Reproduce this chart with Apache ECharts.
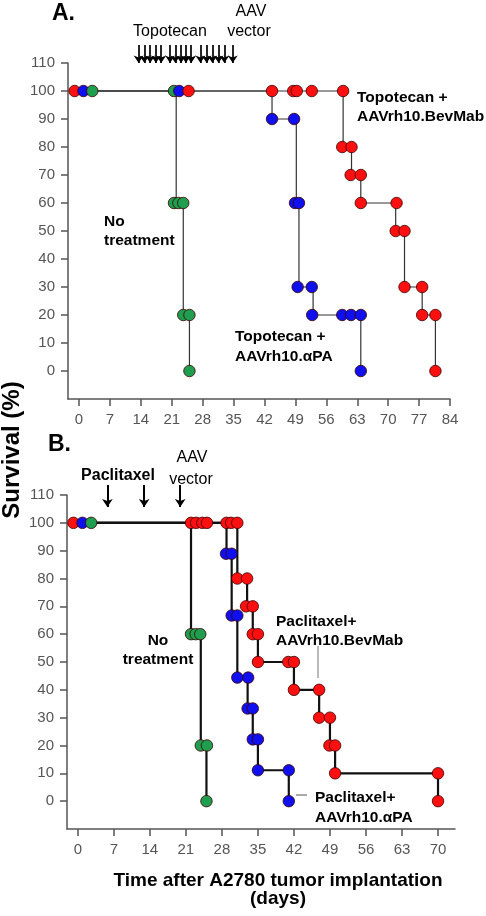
<!DOCTYPE html>
<html><head><meta charset="utf-8">
<script src="https://cdn.jsdelivr.net/npm/echarts@6/dist/echarts.min.js"></script>
<style>html,body{margin:0;padding:0;background:#fff}#c{width:486px;height:916px}</style>
</head><body><div id="c"></div>
<script>
// ---------- tick labels ----------
const xTicksA = [0,7,14,21,28,35,42,49,56,63,70,77,84];
const xTicksB = [0,7,14,21,28,35,42,49,56,63,70];
const yTicks = [0,10,20,30,40,50,60,70,80,90,100,110];

// ---------- Panel A (Topotecan) ----------
// step curves: start day at 100 %, then [day, survival after drop]
const A_red_start = -1;
const A_red_steps = [[59.8,80],[61.7,70],[63.8,60],[71.7,50],[73.7,30],[77.7,20],[80.7,0]];
const A_blue_start = 1;
const A_blue_steps = [[43.7,90],[49.2,60],[49.8,30],[53,20],[63.8,0]];
const A_green_start = 3;
const A_green_steps = [[22,60],[23.6,20],[25,0]];
// markers
const A_red_pts = [[-1,100],[24.8,100],[43.7,100],[48.5,100],[49.3,100],[52.7,100],[59.8,100],[59.6,80],[61.7,80],[61.5,70],[63.8,70],[63.8,60],[71.9,60],[71.7,50],[73.7,50],[73.7,30],[77.7,30],[77.7,20],[80.7,20],[80.7,0]];
const A_blue_pts = [[1,100],[22.7,100],[43.7,90],[48.7,90],[48.9,60],[49.8,60],[49.5,30],[52.7,30],[52.8,20],[59.6,20],[61.6,20],[63.8,20],[63.8,0]];
const A_green_pts = [[3,100],[21.5,100],[21.5,60],[22.5,60],[23.6,60],[23.6,20],[25,20],[25,0]];
const A_topotecan_days = [13.5,14.8,16.1,17.4,18.6,20.6,21.8,23.1,24.2,25.4,27.5,28.9,30.2,31.6,32.9];
const A_aav_days = [34.8];

// ---------- Panel B (Paclitaxel) ----------
const B_red_start = -0.85;
const B_red_steps = [[31,80],[32.9,70],[34,60],[35,50],[42,40],[46.9,30],[49,20],[50,10],[70,0]];
const B_blue_start = 0.9;
const B_blue_steps = [[28.9,88.9],[29.9,66.7],[31,44.4],[33,33.3],[34,22.2],[35,11.1],[41,0]];
const B_green_start = 2.6;
const B_green_steps = [[22,60],[23.9,20],[25,0]];
const B_red_pts = [[-0.85,100],[22,100],[23,100],[24.2,100],[25.1,100],[28.9,100],[29.8,100],[31,100],[31,80],[32.9,80],[32.7,70],[34,70],[34,60],[35,60],[35,50],[40.9,50],[42,50],[42,40],[46.9,40],[46.9,30],[49,30],[48.9,20],[50,20],[50,10],[70,10],[70,0]];
const B_blue_pts = [[0.9,100],[28.8,88.9],[29.9,88.9],[29.9,66.7],[31,66.7],[31,44.4],[33.1,44.4],[33,33.3],[34,33.3],[34,22.2],[35,22.2],[35,11.1],[41,11.1],[41,0]];
const B_green_pts = [[2.6,100],[22,60],[22.9,60],[23.8,60],[23.9,20],[25.1,20],[25,0]];
const B_paclitaxel_days = [5.75,12.9];
const B_aav_days = [19.9];

// ---------- styling ----------
const RED = '#ff1010', BLUE = '#1010ee', GREEN = '#1f9e4f';
const FONT = '"Liberation Sans", Arial, sans-serif';

function stepPath(start, steps) {
  const p = [[start, 100]];
  let prev = 100;
  steps.forEach(([x, y]) => { p.push([x, prev]); p.push([x, y]); prev = y; });
  return p;
}
function markers(groups) {
  const all = [];
  groups.forEach(([pts, color]) => pts.forEach(v => all.push({ value: v, itemStyle: { color } })));
  all.sort((a, b) => a.value[0] - b.value[0]);
  return all;
}

const GA = { left: 68, right: 36, top: 63, height: 336 };
const GB = { left: 67, right: 31, top: 495, height: 334 };

function xAxis(gi, min, max, ticks) {
  return {
    type: 'value', gridIndex: gi, min, max,
    axisLine: { show: true, onZero: false, lineStyle: { color: '#555', width: 1.5 } },
    axisTick: { show: true, length: 7, customValues: ticks, lineStyle: { color: '#555', width: 1.5 } },
    axisLabel: { customValues: ticks, color: '#555', fontSize: 15, fontFamily: FONT, margin: 13 },
    splitLine: { show: false }
  };
}
function yAxis(gi) {
  return {
    type: 'value', gridIndex: gi, min: -10, max: 110, interval: 10,
    axisLine: { show: true, onZero: false, lineStyle: { color: '#555', width: 1.5 } },
    axisTick: { show: true, length: 7, customValues: yTicks, lineStyle: { color: '#555', width: 1.5 } },
    axisLabel: { customValues: yTicks, color: '#555', fontSize: 15, fontFamily: FONT, margin: 13 },
    splitLine: { show: false }
  };
}
function hiddenX(gi, min, max) { return { type: 'value', gridIndex: gi, min, max, show: false }; }
function hiddenY(gi) { return { type: 'value', gridIndex: gi, min: 0, max: 1, show: false }; }

function lineSeries(xi, path, width, color) {
  return { type: 'line', xAxisIndex: xi, yAxisIndex: xi, data: path, showSymbol: false, symbol: 'none',
    lineStyle: { color, width }, z: 2, silent: true };
}
function scatterSeries(xi, data, size) {
  return { type: 'scatter', xAxisIndex: xi, yAxisIndex: xi, data, symbolSize: size,
    itemStyle: { borderColor: '#3a0000', borderWidth: 0.8, opacity: 1 }, z: 3, silent: true };
}
function arrowSeries(xi, days, width, size) {
  return { type: 'lines', coordinateSystem: 'cartesian2d', xAxisIndex: xi, yAxisIndex: xi,
    data: days.map(d => ({ coords: [[d, 1], [d, 0]] })),
    symbol: ['none', 'arrow'], symbolSize: size,
    lineStyle: { color: '#000', width, opacity: 1 }, silent: true };
}

function txt(text, x, y, size, weight, align, color) {
  return { type: 'text', x, y, silent: true,
    style: { text, font: (weight || 'normal') + ' ' + size + 'px ' + FONT, fill: color || '#000',
      textAlign: align || 'left', textVerticalAlign: 'middle' } };
}

const chart = echarts.init(document.getElementById('c'), null, { renderer: 'canvas' });
chart.setOption({
  animation: false,
  backgroundColor: '#fff',
  grid: [
    GA, GB,
    { left: GA.left, right: GA.right, top: 45, height: 18 },
    { left: GB.left, right: GB.right, top: 485, height: 22 }
  ],
  xAxis: [xAxis(0, -2.5, 84, xTicksA), xAxis(1, -2.1, 73.3, xTicksB), hiddenX(2, -2.5, 84), hiddenX(3, -2.1, 73.3)],
  yAxis: [yAxis(0), yAxis(1), hiddenY(2), hiddenY(3)],
  series: [
    lineSeries(0, stepPath(A_green_start, A_green_steps), 1.2, '#333'),
    lineSeries(0, stepPath(A_blue_start, A_blue_steps), 1.2, '#333'),
    lineSeries(0, stepPath(A_red_start, A_red_steps), 1.2, '#333'),
    scatterSeries(0, markers([[A_red_pts, RED], [A_blue_pts, BLUE], [A_green_pts, GREEN]]), 11.5),
    lineSeries(1, stepPath(B_green_start, B_green_steps), 2.2, '#111'),
    lineSeries(1, stepPath(B_blue_start, B_blue_steps), 2.2, '#111'),
    lineSeries(1, stepPath(B_red_start, B_red_steps), 2.2, '#111'),
    scatterSeries(1, markers([[B_red_pts, RED], [B_blue_pts, BLUE], [B_green_pts, GREEN]]), 11.5),
    arrowSeries(2, A_topotecan_days.concat(A_aav_days), 1.7, 7.5),
    arrowSeries(3, B_paclitaxel_days.concat(B_aav_days), 2, 8)
  ],
  graphic: [
    txt('A.', 52, 14, 23, 'bold'),
    txt('Topotecan', 170, 32, 16, 'normal', 'center'),
    txt('AAV', 251, 12, 16, 'normal', 'center'),
    txt('vector', 249, 32, 16, 'normal', 'center'),
    txt('Topotecan +', 357, 98, 15.5, 'bold'),
    txt('AAVrh10.BevMab', 357, 117, 15.5, 'bold'),
    txt('No', 104, 222, 15.5, 'bold'),
    txt('treatment', 104, 241, 15.5, 'bold'),
    txt('Topotecan +', 235, 337, 15.5, 'bold'),
    txt('AAVrh10.αPA', 235, 357, 15.5, 'bold'),
    txt('B.', 48, 445, 23, 'bold'),
    txt('Paclitaxel', 118, 476, 16, 'bold', 'center'),
    txt('AAV', 192, 458, 16, 'normal', 'center'),
    txt('vector', 191, 480, 16, 'normal', 'center'),
    txt('No', 158, 641, 15.5, 'bold', 'center'),
    txt('treatment', 158, 660, 15.5, 'bold', 'center'),
    txt('Paclitaxel+', 276, 622, 15.5, 'bold'),
    txt('AAVrh10.BevMab', 276, 641, 15.5, 'bold'),
    { type: 'line', silent: true, shape: { x1: 318, y1: 646, x2: 318, y2: 678 }, style: { stroke: '#777', lineWidth: 1 } },
    txt('Paclitaxel+', 315, 798, 15.5, 'bold'),
    txt('AAVrh10.αPA', 315, 818, 15.5, 'bold'),
    { type: 'line', silent: true, shape: { x1: 296, y1: 795, x2: 307, y2: 795 }, style: { stroke: '#555', lineWidth: 1 } },
    { type: 'text', x: 12, y: 450, rotation: Math.PI / 2, silent: true,
      style: { text: 'Survival (%)', font: 'bold 24px ' + FONT, fill: '#000', textAlign: 'center', textVerticalAlign: 'middle' } },
    txt('Time after A2780 tumor implantation', 278, 881, 19, 'bold', 'center'),
    txt('(days)', 278, 899, 19, 'bold', 'center')
  ]
});
</script></body></html>
